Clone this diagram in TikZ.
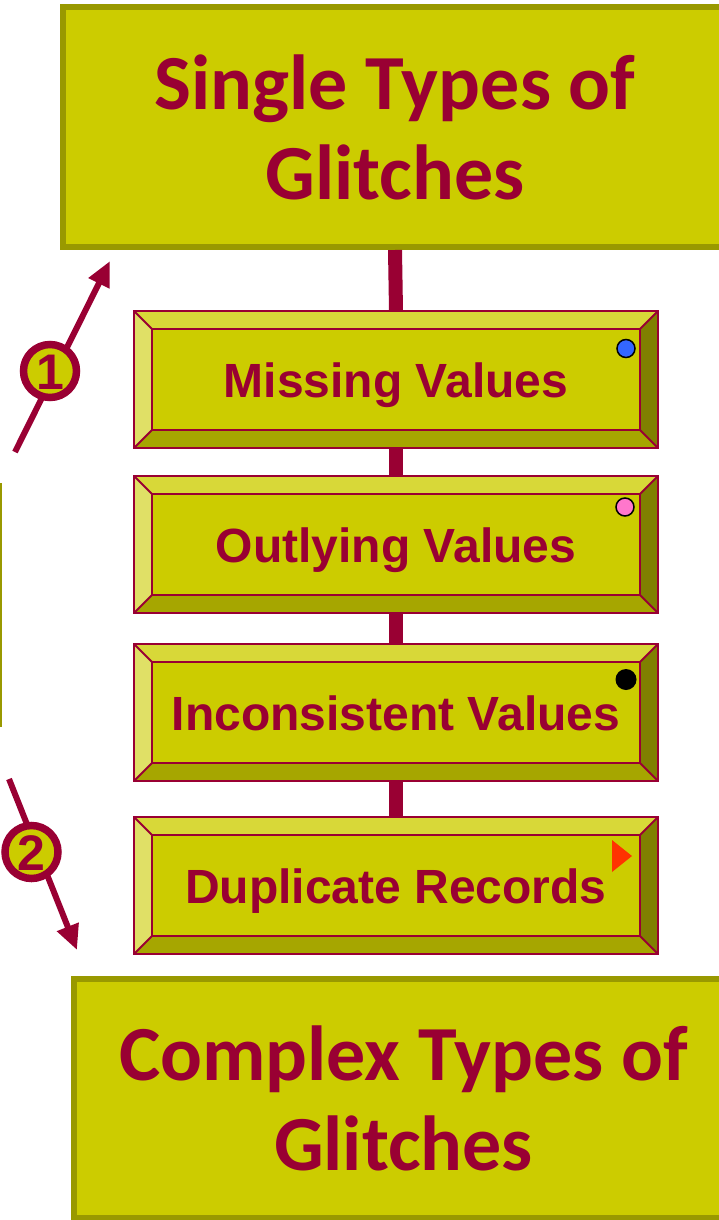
\documentclass[tikz,border=0pt]{standalone}
\usepackage{fontspec}
\setmainfont{Liberation Sans}
\newfontfamily\titlefont{Carlito}
\usetikzlibrary{arrows.meta,calc}
\definecolor{face}{HTML}{CCCC00}
\definecolor{olivebd}{HTML}{999900}
\definecolor{crim}{HTML}{990033}
\definecolor{bevtop}{HTML}{D8D838}
\definecolor{bevleft}{HTML}{E0E066}
\definecolor{bevbot}{HTML}{A6A600}
\definecolor{bevright}{HTML}{808000}
\definecolor{mblue}{HTML}{3366FF}
\definecolor{mpink}{HTML}{FF77CC}
\definecolor{mred}{HTML}{FF3300}
\tikzset{
  bigbox/.style={draw=olivebd, fill=face, line width=6pt, text=crim, align=center,
    font=\titlefont\bfseries\fontsize{78}{90}\selectfont, inner sep=0pt},
  bev/.style={fill=face, minimum width=524pt, minimum height=137pt, inner sep=0pt,
    text=crim, font=\bfseries\fontsize{48}{56}\selectfont, text height=35pt, text depth=0pt},
  conn/.style={draw=crim, line width=14pt},
  arr/.style={draw=crim, line width=6pt, -{Triangle[width=22pt,length=25pt]}},
  numc/.style={circle, draw=crim, fill=face, line width=7.5pt, minimum size=53pt, inner sep=0pt,
    text=crim, font=\bfseries\fontsize{50}{50}\selectfont, text height=36pt, text depth=0pt},
  dotmark/.style={circle, draw=black, line width=1.5pt, minimum size=18pt, inner sep=0pt},
}
\newcommand\bevdeco[1]{%
  \fill[bevtop] (#1.north west) -- (#1.north east) -- ([shift={(-18,18)}]#1.north east) -- ([shift={(18,18)}]#1.north west) -- cycle;
  \fill[bevbot] (#1.south west) -- (#1.south east) -- ([shift={(-18,-18)}]#1.south east) -- ([shift={(18,-18)}]#1.south west) -- cycle;
  \fill[bevleft] (#1.north west) -- (#1.south west) -- ([shift={(18,-18)}]#1.south west) -- ([shift={(18,18)}]#1.north west) -- cycle;
  \fill[bevright] (#1.north east) -- (#1.south east) -- ([shift={(-18,-18)}]#1.south east) -- ([shift={(-18,18)}]#1.north east) -- cycle;
  \draw[crim, line width=2pt] (#1.north west) rectangle (#1.south east);
  \draw[crim, line width=2pt] ([shift={(18,18)}]#1.north west) rectangle ([shift={(-18,-18)}]#1.south east);
  \draw[crim, line width=2pt] (#1.north west) -- ([shift={(18,18)}]#1.north west)
    (#1.north east) -- ([shift={(-18,18)}]#1.north east)
    (#1.south west) -- ([shift={(18,-18)}]#1.south west)
    (#1.south east) -- ([shift={(-18,-18)}]#1.south east);
}
\begin{document}
\begin{tikzpicture}[x=1pt,y=-1pt]
\useasboundingbox (0,0) rectangle (719,1220);
\begin{scope}
\clip (0,0) rectangle (719,1220);
% left partial box edge
\draw[olivebd, line width=2.5pt] (1,483) -- (1,727);
% big boxes
\node[bigbox, minimum width=664pt, minimum height=239.5pt] (single) at (395,127.25) {Single Types of\\Glitches};
\node[bigbox, minimum width=660pt, minimum height=239pt] (complex) at (403.5,1098) {Complex Types of\\Glitches};
% bevel boxes
\node[bev] (b1) at (396,379.5) {};
\node[bev] (b2) at (396,544.5) {};
\node[bev] (b3) at (396,712.5) {};
\node[bev] (b4) at (396,885.5) {};
\bevdeco{b1}\bevdeco{b2}\bevdeco{b3}\bevdeco{b4}
\node[bev, fill=none] (t1) at (b1) {Missing Values};
\node[bev, fill=none] (t2) at (b2) {Outlying Values};
\node[bev, fill=none] (t3) at (b3) {Inconsistent Values};
\node[bev, fill=none] (t4) at (b4) {Duplicate Records};
% connectors
\draw[conn] (single.south) -- (b1.north);
\draw[conn] (b1.south) -- (b2.north);
\draw[conn] (b2.south) -- (b3.north);
\draw[conn] (b3.south) -- (b4.north);
% markers
\node[dotmark, fill=mblue] (m1) at (626,348.5) {};
\node[dotmark, fill=mpink] (m2) at (625,507) {};
\node[circle, fill=black, minimum size=21pt, inner sep=0pt] (m3) at (626,679.5) {};
\fill[mred] (612,840) -- (632,856) -- (612,872) -- cycle;
% arrows
\coordinate (a1s) at (15,452);
\coordinate (a1e) at (110,261);
\coordinate (a2s) at (9,779);
\coordinate (a2e) at (77,950);
\draw[arr] (a1s) -- (a1e);
\node[numc] (n1) at (50,371) {1};
\draw[arr] (a2s) -- (a2e);
\node[numc] (n2) at (31.5,852) {2};
\end{scope}
\end{tikzpicture}
\end{document}
